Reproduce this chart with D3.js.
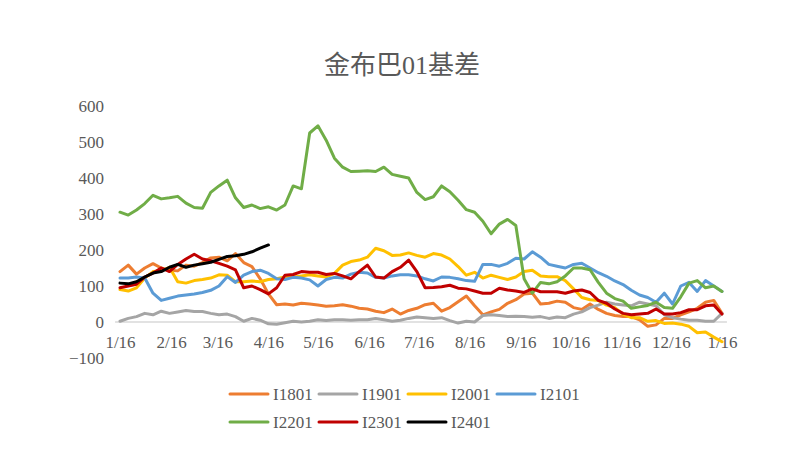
<!DOCTYPE html>
<html>
<head>
<meta charset="utf-8">
<script src="https://cdn.jsdelivr.net/npm/d3@7/dist/d3.min.js"></script>
<style>
  html, body { margin: 0; padding: 0; background: #fff; }
  svg { display: block; }
</style>
</head>
<body>
<svg id="chart" width="787" height="450"></svg>
<script>
// ---- data ----
const title = "金布巴01基差";
// days since 1/16 (sampled every 5 days)
const days = d3.range(0, 366, 5);
const tickDays = [0, 31, 59, 90, 120, 151, 181, 212, 243, 273, 304, 334, 365];
const tickLabels = ["1/16","2/16","3/16","4/16","5/16","6/16","7/16","8/16","9/16","10/16","11/16","12/16","1/16"];
const yTicks = [-100, 0, 100, 200, 300, 400, 500, 600];
const seriesNames = ["I1801","I1901","I2001","I2101","I2201","I2301","I2401"];
const seriesColors = ["#ED7D31","#A5A5A5","#FFC000","#5B9BD5","#70AD47","#C00000","#000000"];

const I1801 = [140,158,133,150,162,150,144,142,158,155,165,178,180,170,190,165,154,120,78,48,
  50,47,52,50,47,44,45,48,44,38,36,30,26,36,22,32,38,48,52,30,
  40,56,72,45,20,28,35,52,62,78,80,50,52,58,55,40,35,50,35,24,
  18,15,15,6,-12,-8,10,10,20,28,38,55,60,24];
const I1901 = [2,10,15,24,20,30,24,28,32,29,29,24,20,22,15,2,10,5,-5,-6,
  -2,2,0,2,6,4,6,6,5,6,6,10,6,2,5,10,14,12,10,12,
  4,-3,2,0,18,20,18,15,16,15,13,15,10,14,12,22,28,40,47,55,
  50,47,45,55,50,45,20,12,8,5,5,2,2,24];
const I2001 = [90,86,95,122,140,142,152,112,108,115,118,122,131,130,112,112,114,112,118,120,
  125,125,128,131,128,125,135,158,168,172,180,205,198,185,186,192,185,180,190,186,
  175,154,130,138,122,130,124,118,125,140,144,128,126,126,115,92,68,62,60,47,
  40,22,12,12,2,4,-4,-3,-6,-12,-30,-28,-42,-55];
const I2101 = [122,122,125,122,80,60,66,72,75,78,82,88,100,126,110,130,140,144,135,120,
  118,124,122,117,100,118,124,122,133,138,136,124,122,128,131,131,128,120,114,125,
  124,120,115,113,160,160,155,163,177,175,195,180,160,155,150,160,163,150,137,127,
  114,104,88,75,68,55,80,50,100,110,85,115,100,85];
const I2201 = [305,297,311,329,352,342,345,349,330,318,316,360,378,394,345,318,325,315,320,311,
  325,378,370,525,545,505,455,430,418,419,420,418,430,410,405,400,360,340,348,378,
  362,338,312,305,280,245,272,285,268,120,80,110,106,112,128,150,150,145,110,80,
  65,58,38,42,46,55,40,38,70,108,115,95,100,85];
const I2301 = [95,100,105,125,136,150,140,160,175,188,175,170,163,155,145,95,100,90,78,95,
  130,132,140,138,138,132,135,128,120,140,158,125,122,140,152,172,140,95,96,98,
  102,94,92,86,80,80,94,89,86,82,92,84,84,84,80,86,89,82,60,52,
  36,24,20,22,24,36,22,22,26,34,34,45,47,22];
const I2401 = [108,106,112,125,136,140,152,160,152,158,162,166,174,182,184,188,195,205,214];

const seriesValues = [I1801, I1901, I2001, I2101, I2201, I2301, I2401];

// ---- layout ----
const svg = d3.select("#chart");
const W = 787, H = 450;
const fontLatin = "'Liberation Serif', 'Noto Sans CJK SC', serif";
const textColor = "#595959";

const x = d3.scaleLinear().domain([0, 365]).range([120, 722]);
const y = d3.scaleLinear().domain([-100, 600]).range([358, 106]);

svg.append("rect").attr("width", W).attr("height", H).attr("fill", "#fff");

// title
svg.append("text")
  .attr("x", 402).attr("y", 74)
  .attr("text-anchor", "middle")
  .attr("font-family", fontLatin)
  .attr("font-size", 26)
  .attr("fill", textColor)
  .text(title);

// y axis labels
const yAxis = d3.axisLeft(y).tickValues(yTicks).tickSize(0).tickPadding(0)
  .tickFormat(d => d < 0 ? "\u2212" + Math.abs(d) : d);
const gy = svg.append("g").attr("transform", "translate(104,0)").call(yAxis);
gy.select(".domain").remove();
gy.selectAll("text")
  .attr("font-family", fontLatin).attr("font-size", 17)
  .attr("fill", textColor).attr("dy", "0.34em");

// x axis (at zero)
const xAxis = d3.axisBottom(x).tickValues(tickDays).tickSize(0).tickPadding(0)
  .tickFormat((d, i) => tickLabels[i]);
const gx = svg.append("g").attr("transform", `translate(0,${y(0)})`).call(xAxis);
gx.select(".domain").remove();
gx.selectAll("text")
  .attr("font-family", fontLatin).attr("font-size", 17)
  .attr("fill", textColor).attr("y", 26).attr("dy", 0);

// zero line
svg.append("line")
  .attr("x1", x(-3)).attr("x2", x(368))
  .attr("y1", y(0)).attr("y2", y(0))
  .attr("stroke", "#D9D9D9").attr("stroke-width", 1.3);

// series lines
const line = d3.line()
  .defined(d => d[1] != null)
  .x(d => x(d[0])).y(d => y(d[1]));

seriesNames.forEach((name, i) => {
  const pts = seriesValues[i].map((v, j) => [days[j], v]);
  svg.append("path")
    .datum(pts)
    .attr("d", line)
    .attr("fill", "none")
    .attr("stroke", seriesColors[i])
    .attr("stroke-width", 3)
    .attr("stroke-linejoin", "round")
    .attr("stroke-linecap", "round");
});

// legend
const legendCols = [230, 319, 408, 497];
const legendRows = [394, 422];
seriesNames.forEach((name, i) => {
  const lx = legendCols[i % 4], ly = legendRows[Math.floor(i / 4)];
  const g = svg.append("g");
  g.append("line")
    .attr("x1", lx).attr("x2", lx + 38)
    .attr("y1", ly).attr("y2", ly)
    .attr("stroke", seriesColors[i]).attr("stroke-width", 3)
    .attr("stroke-linecap", "round");
  g.append("text")
    .attr("x", lx + 43).attr("y", ly)
    .attr("dy", "0.35em")
    .attr("font-family", fontLatin).attr("font-size", 17)
    .attr("fill", textColor)
    .text(name);
});
</script>
</body>
</html>
